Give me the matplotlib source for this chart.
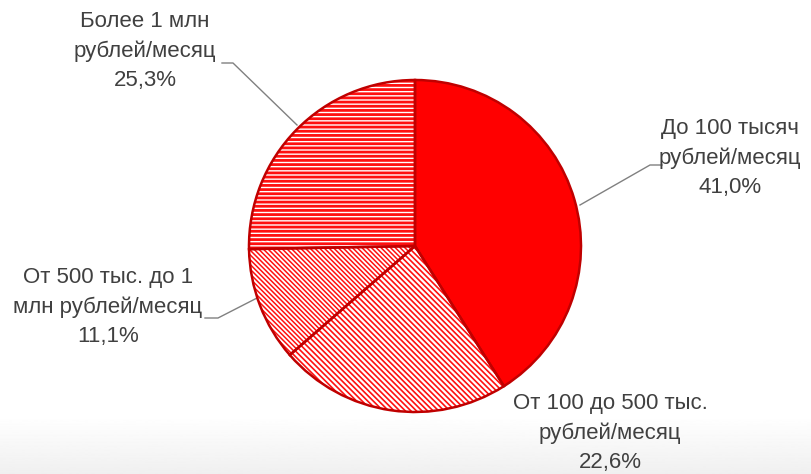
import matplotlib
matplotlib.use("Agg")
import matplotlib.pyplot as plt
import numpy as np

plt.rcParams['font.family'] = ['Liberation Sans Narrow', 'Liberation Sans', 'DejaVu Sans']

categories = ["До 100 тысяч\nрублей/месяц", "От 100 до 500 тыс.\nрублей/месяц",
              "От 500 тыс. до 1\nмлн рублей/месяц", "Более 1 млн\nрублей/месяц"]
values = [41.0, 22.6, 11.1, 25.3]
value_labels = ["41,0%", "22,6%", "11,1%", "25,3%"]

W, H = 811, 474
fig = plt.figure(figsize=(W / 100, H / 100), dpi=100)
ax = fig.add_axes([0, 0, 1, 1])
ax.axis('off')

def Y(y):
    return H - y

# subtle gray gradient at the bottom
grad = np.linspace(0.94, 1.0, 64).reshape(-1, 1)
ax.imshow(grad, extent=(0, W, 0, Y(415)), origin='lower', cmap='gray', vmin=0, vmax=1,
          aspect='auto', zorder=0)

cx, cy, r = 415, 246, 166
hatches = [None, '\\\\\\\\\\\\', '\\\\\\\\\\\\\\', '----']
hlw = [1, 1.2, 1.1, 2.0]
wedges, _ = ax.pie(values, center=(cx, Y(cy)), radius=r, startangle=90, counterclock=False,
                   colors=['#FF0000', 'white', 'white', 'white'],
                   wedgeprops=dict(edgecolor='#FF1010', linewidth=0.5))
for w, h, lw in zip(wedges, hatches, hlw):
    w.set_zorder(2)
    if h:
        w.set_hatch(h)
        if hasattr(w, 'set_hatch_linewidth'):
            w.set_hatch_linewidth(lw)
# outline
outline, _ = ax.pie(values, center=(cx, Y(cy)), radius=r, startangle=90, counterclock=False,
                    wedgeprops=dict(facecolor='none', edgecolor='#C00000', linewidth=1.8))
for w in outline:
    w.set_zorder(3)
ax.set_xlim(0, W)
ax.set_ylim(0, H)
ax.set_aspect('equal')

# labels
label_pos = [(730, 158), (610, 433), (108, 307), (145, 51)]
for cat, vl, (lx, ly) in zip(categories, value_labels, label_pos):
    ax.text(lx, Y(ly), cat + "\n" + vl, ha='center', va='center', fontsize=16,
            color='#404040', linespacing=1.5, zorder=4)

# leader lines
gray = '#808080'
ax.plot([222, 233, 297], [Y(63), Y(63), Y(125)], color=gray, lw=1, zorder=1)
ax.plot([580, 650, 662], [Y(205), Y(165), Y(165)], color=gray, lw=1, zorder=1)
ax.plot([205, 218, 259], [Y(318), Y(318), Y(297)], color=gray, lw=1, zorder=1)

fig.savefig("out.png", dpi=100)
